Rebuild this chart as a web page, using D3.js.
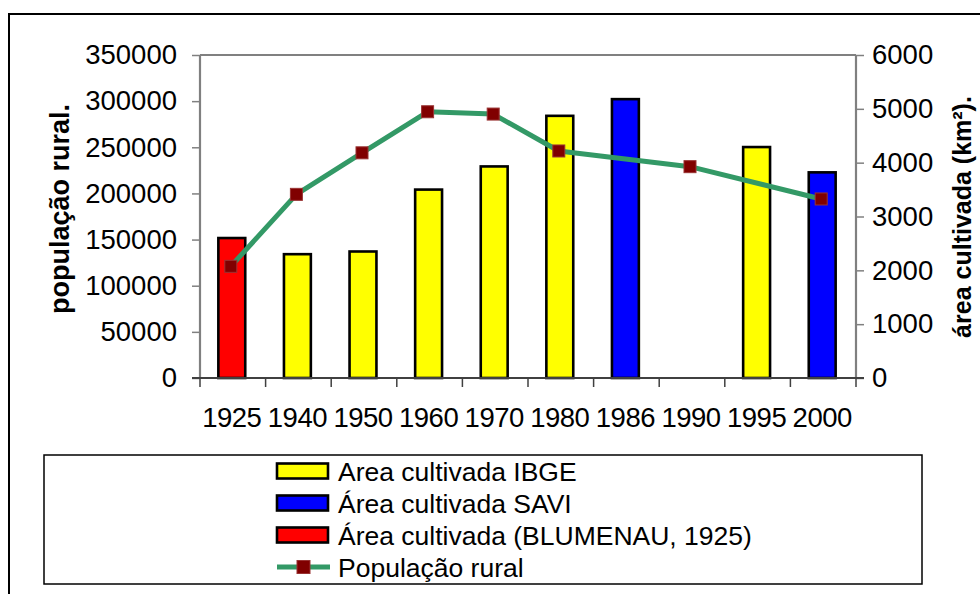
<!DOCTYPE html>
<html><head><meta charset="utf-8">
<script src="https://cdn.jsdelivr.net/npm/d3@7"></script>
<style>
html,body{margin:0;padding:0;background:#fff;}
svg{display:block;font-family:"Liberation Sans",Arial,sans-serif;}
</style></head>
<body>
<svg id="c" width="980" height="594"></svg>
<script>
const categories = ["1925","1940","1950","1960","1970","1980","1986","1990","1995","2000"];
const areaIBGE     = [null, 2300, 2350, 3500, 3930, 4870, null, null, 4290, null];
const areaSAVI     = [null, null, null, null, null, null, 5180, null, null, 3820];
const areaBlumenau = [2600, null, null, null, null, null, null, null, null, null];
const popRural     = [121000, 199000, 244000, 288500, 286000, 246000, null, 229000, null, 194000];
const leftTicks  = [0,50000,100000,150000,200000,250000,300000,350000];
const rightTicks = [0,1000,2000,3000,4000,5000,6000];
const seriesNames = ["Area cultivada IBGE","Área cultivada SAVI","Área cultivada (BLUMENAU, 1925)","População rural"];

const FONT = "'Liberation Sans',Arial,sans-serif";
const svg = d3.select("#c");
const P = {l:200, r:856, t:55, b:378};

// outer chart border
svg.append("rect").attr("x",9).attr("y",14).attr("width",1000).attr("height",620)
  .attr("fill","none").attr("stroke","#000").attr("stroke-width",2);

const x = d3.scaleBand().domain(categories).range([P.l,P.r]).padding(0);
const yL = d3.scaleLinear().domain([0,350000]).range([P.b,P.t]);
const yR = d3.scaleLinear().domain([0,6000]).range([P.b,P.t]);

// plot frame (top)
svg.append("line").attr("x1",P.l).attr("x2",P.r).attr("y1",P.t).attr("y2",P.t)
  .attr("stroke","#808080").attr("stroke-width",2);

// bars
const barW = x.bandwidth()*0.41;
const barSeries = [
  {vals:areaIBGE, color:"#FFFF00"},
  {vals:areaSAVI, color:"#0000FF"},
  {vals:areaBlumenau, color:"#FF0000"}
];
barSeries.forEach(s=>{
  const data = categories.map((c,i)=>({c, v:s.vals[i]})).filter(d=>d.v!=null);
  svg.append("g").selectAll("rect").data(data).join("rect")
    .attr("x",d=>x(d.c)+x.bandwidth()/2-barW/2-1)
    .attr("y",d=>yR(d.v))
    .attr("width",barW)
    .attr("height",d=>yR(0)-yR(d.v))
    .attr("fill",s.color).attr("stroke","#000").attr("stroke-width",2.6);
});

// axes
const axL = d3.axisLeft(yL).tickValues(leftTicks).tickSize(8).tickPadding(15).tickFormat(d3.format("d"));
const gL = svg.append("g").attr("transform",`translate(${P.l},0)`).call(axL);
const axR = d3.axisRight(yR).tickValues(rightTicks).tickSize(8).tickPadding(8).tickFormat(d3.format("d"));
const gR = svg.append("g").attr("transform",`translate(${P.r},0)`).call(axR);
[gL,gR].forEach(g=>{
  g.select(".domain").attr("stroke","#808080").attr("stroke-width",2.2).attr("d",`M0,${P.t}V${P.b}`);
  g.selectAll(".tick line").attr("stroke","#808080").attr("stroke-width",1.5);
  g.selectAll(".tick text").attr("font-size",27.5).attr("fill","#000").attr("font-family",FONT);
});

const axB = d3.axisBottom(x).tickSize(0).tickPadding(29);
const gB = svg.append("g").attr("transform",`translate(0,${P.b})`).call(axB);
gB.select(".domain").attr("stroke","#404040").attr("stroke-width",2.2).attr("d",`M${P.l-8},0H${P.r+8}`);
gB.selectAll(".tick text").attr("font-size",27.5).attr("fill","#000").attr("font-family",FONT)
  .attr("dx",-1).style("letter-spacing","-0.5px");
// category boundary ticks
const bounds = categories.map(c=>x(c)).concat([x.range()[1]]);
gB.selectAll("line.bt").data(bounds).join("line").attr("class","bt")
  .attr("x1",d=>d).attr("x2",d=>d).attr("y1",0).attr("y2",9)
  .attr("stroke","#404040").attr("stroke-width",1.5);

// line series
const popData = categories.map((c,i)=>({c, v:popRural[i]})).filter(d=>d.v!=null);
const line = d3.line().x(d=>x(d.c)+x.bandwidth()/2-2).y(d=>yL(d.v));
svg.append("path").datum(popData).attr("d",line)
  .attr("fill","none").attr("stroke","#339966").attr("stroke-width",5).attr("stroke-linejoin","round");
svg.append("g").selectAll("rect").data(popData).join("rect")
  .attr("x",d=>x(d.c)+x.bandwidth()/2-2-6).attr("y",d=>yL(d.v)-6)
  .attr("width",12).attr("height",12)
  .attr("fill","#800000").attr("stroke","#993333").attr("stroke-width",1);

// axis titles
svg.append("text").attr("transform",`translate(69,209) rotate(-90)`)
  .attr("text-anchor","middle").attr("font-weight","bold").attr("font-size",27)
  .attr("font-family",FONT).text("população rural.");
svg.append("text").attr("transform",`translate(971,217) rotate(-90)`)
  .attr("text-anchor","middle").attr("font-weight","bold").attr("font-size",25)
  .attr("font-family",FONT).text("área cultivada (km²).");

// legend
const L = svg.append("g");
L.append("rect").attr("x",44).attr("y",455).attr("width",878).attr("height",129)
  .attr("fill","#fff").attr("stroke","#000").attr("stroke-width",1.5);
const colors = ["#FFFF00","#0000FF","#FF0000"];
const rowY = [471,503,535,567];
seriesNames.forEach((n,i)=>{
  const yy = rowY[i];
  if(i<3){
    L.append("rect").attr("x",277).attr("y",yy-7.5).attr("width",51).attr("height",15)
      .attr("fill",colors[i]).attr("stroke","#000").attr("stroke-width",2.6);
  } else {
    L.append("line").attr("x1",277).attr("x2",330).attr("y1",yy).attr("y2",yy)
      .attr("stroke","#339966").attr("stroke-width",5);
    L.append("rect").attr("x",297).attr("y",yy-6.5).attr("width",13).attr("height",13)
      .attr("fill","#800000").attr("stroke","#993333").attr("stroke-width",1);
  }
  L.append("text").attr("x",338).attr("y",yy).attr("dy","0.36em").attr("font-size",26.5)
    .attr("font-family",FONT).attr("fill","#000").text(n);
});
</script>
</body></html>
